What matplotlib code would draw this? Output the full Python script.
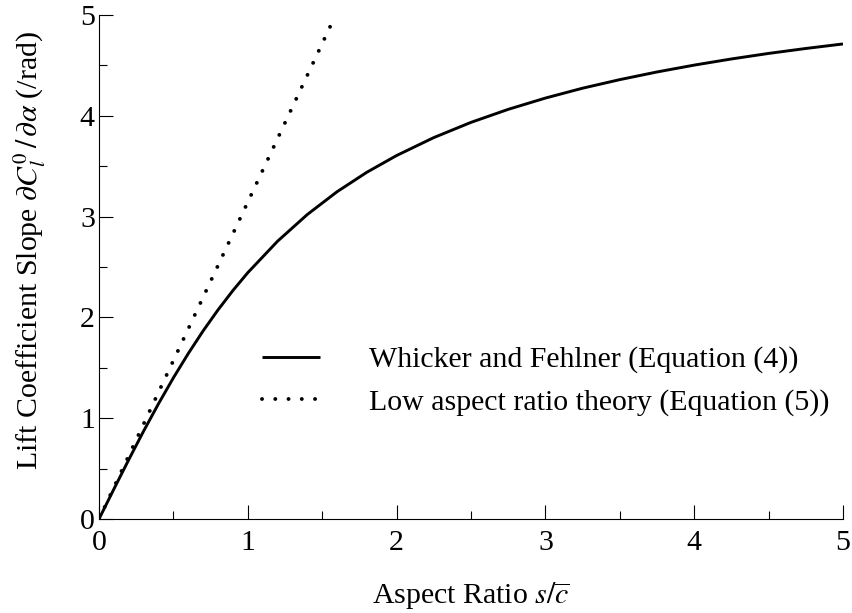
import matplotlib
matplotlib.use("Agg")
import matplotlib.pyplot as plt
from matplotlib.ticker import MultipleLocator

plt.rcParams['font.family'] = ['Liberation Serif', 'DejaVu Serif']
plt.rcParams['mathtext.fontset'] = 'stix'

# Whicker and Fehlner curve
wf_x = [0.0, 0.1, 0.2, 0.3, 0.4, 0.5, 0.6, 0.7, 0.8, 0.9, 1.0, 1.2, 1.4, 1.6, 1.8,
        2.0, 2.25, 2.5, 2.75, 3.0, 3.25, 3.5, 3.75, 4.0, 4.25, 4.5, 4.75, 5.0]
wf_y = [0.0, 0.297, 0.589, 0.873, 1.144, 1.401, 1.642, 1.867, 2.075, 2.267, 2.444,
        2.756, 3.021, 3.247, 3.440, 3.606, 3.784, 3.935, 4.064, 4.176, 4.274,
        4.359, 4.435, 4.503, 4.564, 4.619, 4.668, 4.713]

# Low aspect ratio theory (straight line)
la_x = [0.0, 1.555]
la_y = [0.0, 4.89]

labels = ["Whicker and Fehlner (Equation (4))",
          "Low aspect ratio theory (Equation (5))"]

fs = 21.5
fig = plt.figure(figsize=(8.52, 6.13), dpi=100)
ax = fig.add_axes([0.1162, 0.1533, 0.8732, 0.8222])

ax.plot(wf_x, wf_y, color='black', lw=2.1, solid_capstyle='butt', label=labels[0])
ax.plot(la_x, la_y, color='black', lw=2.8, linestyle=(0, (0.01, 3.4)),
        dash_capstyle='round', label=labels[1])

ax.set_xlim(0, 5)
ax.set_ylim(0, 5)
ax.xaxis.set_major_locator(MultipleLocator(1))
ax.xaxis.set_minor_locator(MultipleLocator(0.5))
ax.yaxis.set_major_locator(MultipleLocator(1))
ax.yaxis.set_minor_locator(MultipleLocator(0.5))
ax.tick_params(which='both', direction='in', top=False, right=False,
               labelsize=fs, width=0.8)
ax.tick_params(which='major', length=10)
ax.tick_params(which='minor', length=6)
ax.tick_params(axis='x', which='major', pad=8)
ax.tick_params(axis='y', which='major', pad=3)
for s in ['top', 'right']:
    ax.spines[s].set_visible(False)
for s in ['left', 'bottom']:
    ax.spines[s].set_linewidth(0.8)

ax.set_xlabel(r"Aspect Ratio $s/\overline{c}$", fontsize=fs, labelpad=17)
ax.set_ylabel(r"Lift Coefficient Slope $\partial C_l^0\,/\,\partial\alpha$ (/rad)",
              fontsize=fs)
ax.yaxis.set_label_coords(-0.068, 0.532)

ax.legend(loc='upper left', bbox_to_anchor=(0.219, 0.343), frameon=False,
          fontsize=fs, handlelength=1.95, handletextpad=1.65, labelspacing=0.52,
          borderaxespad=0, borderpad=0)

fig.savefig("out.png", dpi=100)
